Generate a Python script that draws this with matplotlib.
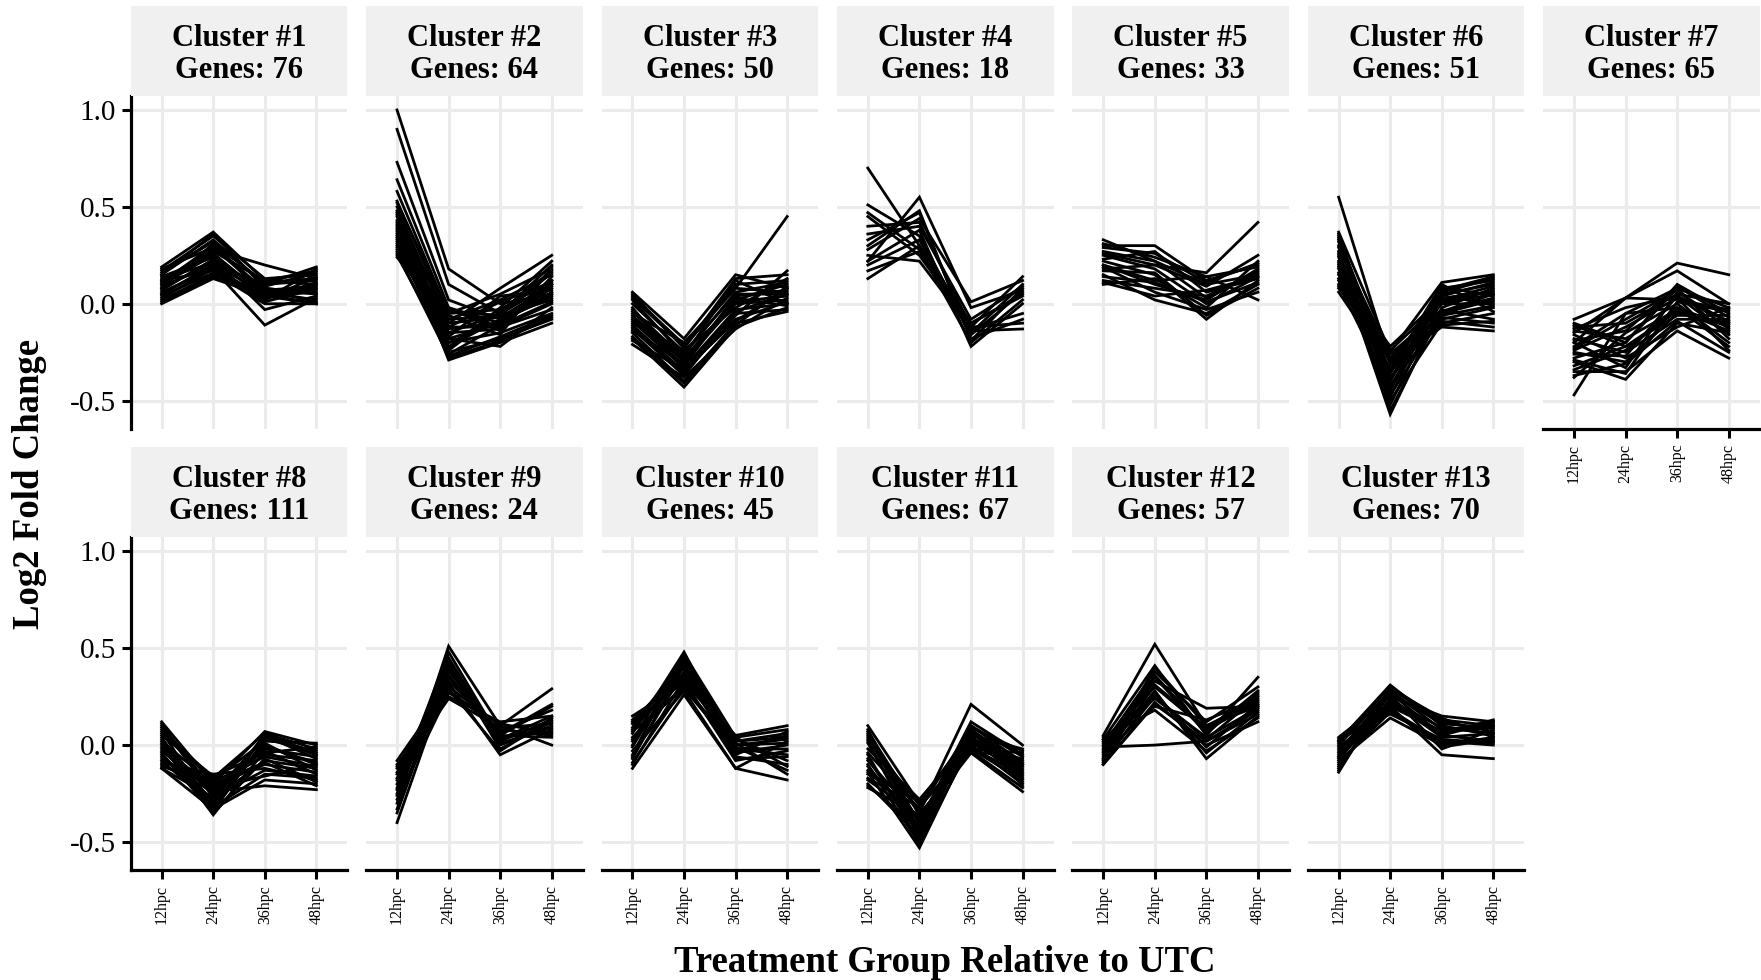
import matplotlib
matplotlib.use('Agg')
import matplotlib.pyplot as plt

plt.rcParams['font.family'] = ['Liberation Serif', 'DejaVu Serif']
plt.rcParams['axes.unicode_minus'] = False

# ---------------- data ----------------
timepoints = ['12hpc', '24hpc', '36hpc', '48hpc']
cluster_ids = [1, 2, 3, 4, 5, 6, 7, 8, 9, 10, 11, 12, 13]
gene_counts = [76, 64, 50, 18, 33, 51, 65, 111, 24, 45, 67, 57, 70]
y_ticks = [-0.5, 0.0, 0.5, 1.0]
y_tick_labels = ['-0.5', '0.0', '0.5', '1.0']

# each row: log2 fold change at 12, 24, 36, 48 hpc (representative genes)
cluster_01 = [
    [0.19, 0.37, 0.12, 0.10], [0.17, 0.35, 0.13, 0.15], [0.15, 0.33, 0.10, 0.12],
    [0.12, 0.28, 0.20, 0.13], [0.10, 0.25, 0.05, 0.08], [0.08, 0.22, 0.08, 0.05],
    [0.05, 0.20, 0.06, 0.02], [0.12, 0.26, 0.04, 0.06], [0.02, 0.15, 0.05, 0.00],
    [0.00, 0.13, 0.04, 0.00], [0.06, 0.18, -0.11, 0.03], [0.14, 0.24, 0.02, 0.18],
    [0.09, 0.20, 0.10, 0.19], [0.04, 0.16, 0.00, 0.00], [0.11, 0.30, 0.07, 0.09],
    [0.16, 0.32, 0.03, 0.11], [0.07, 0.23, -0.03, 0.04], [0.13, 0.21, 0.09, 0.16],
    [0.18, 0.29, 0.06, 0.07], [0.03, 0.18, 0.02, 0.14], [0.01, 0.14, 0.07, 0.01],
    [0.10, 0.27, 0.12, 0.17], [0.15, 0.36, 0.08, 0.05], [0.05, 0.19, 0.03, 0.10],
    [0.08, 0.31, 0.11, 0.13], [0.12, 0.17, 0.01, 0.08],
]
cluster_02 = [
    [1.00, 0.18, 0.00, 0.05], [0.90, 0.10, -0.05, 0.10], [0.73, 0.02, -0.08, 0.03],
    [0.64, -0.02, -0.10, 0.08], [0.58, -0.05, -0.03, 0.12], [0.53, -0.08, 0.02, 0.15],
    [0.50, -0.12, -0.12, 0.00], [0.46, -0.15, -0.05, 0.20], [0.43, -0.20, -0.15, -0.05],
    [0.40, -0.25, -0.18, -0.08], [0.38, -0.29, -0.20, -0.10], [0.36, -0.10, 0.08, 0.25],
    [0.34, -0.18, -0.22, -0.02], [0.32, -0.22, -0.08, 0.05], [0.30, -0.05, 0.05, 0.18],
    [0.28, -0.13, -0.10, 0.10], [0.26, -0.27, -0.17, -0.06], [0.24, -0.08, -0.06, 0.02],
    [0.35, -0.02, -0.14, 0.14], [0.45, -0.23, -0.02, 0.22], [0.41, -0.03, -0.12, -0.03],
    [0.27, -0.17, 0.04, 0.07], [0.48, -0.10, -0.07, 0.09], [0.31, -0.26, -0.11, 0.01],
    [0.29, -0.15, -0.13, 0.12], [0.37, -0.20, -0.09, 0.04], [0.25, -0.24, -0.04, 0.17],
    [0.42, -0.06, -0.16, 0.19], [0.33, -0.28, -0.19, -0.07], [0.39, -0.12, 0.01, 0.11],
    [0.47, -0.18, -0.10, 0.06], [0.52, -0.04, -0.06, 0.16],
]
cluster_03 = [
    [0.06, -0.18, 0.15, 0.08], [0.03, -0.22, 0.08, 0.45], [0.00, -0.25, 0.05, 0.05],
    [-0.03, -0.28, 0.02, 0.10], [-0.06, -0.30, 0.00, 0.02], [-0.09, -0.33, -0.03, 0.00],
    [-0.12, -0.36, -0.06, 0.17], [-0.15, -0.40, -0.10, -0.04], [-0.18, -0.43, -0.12, -0.02],
    [-0.21, -0.38, -0.13, 0.03], [-0.05, -0.20, 0.08, 0.06], [0.02, -0.27, 0.12, 0.00],
    [-0.10, -0.24, -0.02, 0.13], [-0.14, -0.31, 0.04, 0.07], [-0.02, -0.34, -0.05, -0.03],
    [-0.08, -0.26, 0.06, 0.11], [-0.04, -0.29, 0.01, 0.04], [-0.11, -0.35, -0.08, 0.01],
    [-0.17, -0.41, -0.11, 0.09], [0.04, -0.21, 0.10, 0.12], [-0.07, -0.32, 0.03, -0.01],
    [-0.13, -0.37, -0.04, 0.05], [-0.19, -0.34, -0.09, 0.08], [0.05, -0.23, 0.13, 0.15],
]
cluster_04 = [
    [0.70, 0.30, -0.10, 0.05], [0.51, 0.35, -0.15, 0.10], [0.47, 0.28, -0.20, 0.02],
    [0.40, 0.42, -0.12, 0.14], [0.22, 0.55, -0.02, 0.07], [0.33, 0.47, -0.18, -0.08],
    [0.28, 0.44, 0.01, 0.12], [0.22, 0.38, -0.22, 0.00], [0.20, 0.33, -0.14, -0.13],
    [0.17, 0.27, -0.10, 0.04], [0.13, 0.30, -0.16, 0.06], [0.25, 0.22, -0.13, -0.05],
    [0.36, 0.40, -0.08, 0.09], [0.30, 0.48, -0.19, 0.08], [0.45, 0.25, -0.12, -0.10],
]
cluster_05 = [
    [0.33, 0.22, 0.10, 0.15], [0.30, 0.30, 0.12, 0.20], [0.20, 0.12, 0.14, 0.02],
    [0.25, 0.18, 0.00, 0.14], [0.22, 0.15, -0.08, 0.12], [0.20, 0.10, 0.02, 0.18],
    [0.18, 0.20, 0.16, 0.42], [0.15, 0.02, -0.05, 0.10], [0.12, 0.08, 0.04, 0.16],
    [0.10, 0.13, -0.02, 0.22], [0.26, 0.20, 0.09, 0.25], [0.23, 0.27, 0.06, 0.13],
    [0.17, 0.16, -0.06, 0.08], [0.31, 0.24, 0.14, 0.19], [0.14, 0.11, 0.01, 0.11],
    [0.27, 0.22, 0.03, 0.17], [0.19, 0.06, -0.03, 0.06], [0.29, 0.26, 0.11, 0.21],
    [0.11, 0.04, 0.07, 0.14],
]
cluster_06 = [
    [0.55, -0.30, 0.00, 0.05], [0.37, -0.25, 0.11, 0.15], [0.34, -0.40, 0.05, 0.10],
    [0.30, -0.35, -0.05, 0.02], [0.27, -0.45, 0.08, 0.12], [0.24, -0.50, -0.10, -0.05],
    [0.21, -0.57, -0.02, 0.08], [0.18, -0.30, -0.12, -0.14], [0.15, -0.22, 0.03, 0.06],
    [0.12, -0.38, -0.07, -0.10], [0.09, -0.28, 0.00, 0.00], [0.06, -0.33, -0.04, 0.03],
    [0.32, -0.48, 0.06, 0.13], [0.25, -0.42, -0.08, -0.02], [0.20, -0.52, 0.02, 0.09],
    [0.29, -0.26, -0.03, -0.08], [0.10, -0.44, 0.04, 0.11], [0.35, -0.36, 0.09, 0.04],
    [0.16, -0.47, -0.06, -0.01], [0.22, -0.39, 0.07, 0.14], [0.33, -0.31, -0.09, -0.12],
    [0.08, -0.24, 0.01, 0.07], [0.26, -0.55, -0.04, 0.05], [0.13, -0.34, 0.10, -0.04],
    [0.36, -0.43, 0.03, 0.01], [0.19, -0.29, -0.11, -0.09],
]
cluster_07 = [
    [-0.47, -0.05, 0.08, -0.02], [-0.08, 0.03, 0.21, 0.15], [-0.15, 0.03, 0.02, -0.03],
    [-0.20, 0.03, 0.17, 0.00], [-0.10, -0.20, 0.10, -0.05], [-0.25, -0.30, -0.05, -0.10],
    [-0.30, -0.39, -0.10, -0.15], [-0.35, -0.35, -0.14, -0.28], [-0.38, -0.15, 0.00, -0.20],
    [-0.18, -0.25, -0.08, -0.08], [-0.12, -0.10, 0.05, 0.00], [-0.22, -0.05, -0.02, -0.12],
    [-0.28, -0.20, 0.08, -0.18], [-0.16, -0.28, -0.12, -0.02], [-0.24, -0.12, 0.03, -0.24],
    [-0.32, -0.22, -0.06, -0.06], [-0.20, -0.33, 0.06, -0.10], [-0.14, -0.18, -0.03, -0.14],
    [-0.26, -0.27, 0.04, -0.16], [-0.34, -0.24, -0.02, -0.22], [-0.19, -0.14, 0.09, -0.07],
    [-0.11, -0.22, -0.04, -0.11], [-0.29, -0.36, 0.01, -0.04], [-0.23, -0.08, 0.07, -0.13],
    [-0.37, -0.31, -0.09, -0.25], [-0.13, -0.02, 0.04, -0.09],
]
cluster_08 = [
    [0.12, -0.20, 0.07, 0.00], [0.09, -0.25, 0.04, -0.05], [0.06, -0.18, 0.02, 0.01],
    [0.03, -0.30, 0.00, -0.10], [0.00, -0.36, -0.03, -0.15], [-0.03, -0.22, -0.05, -0.08],
    [-0.06, -0.28, -0.08, -0.12], [-0.09, -0.15, -0.12, -0.18], [-0.12, -0.33, -0.18, -0.20],
    [-0.10, -0.24, -0.21, -0.23], [-0.05, -0.32, -0.15, -0.17], [0.08, -0.17, 0.06, -0.02],
    [0.01, -0.26, -0.02, -0.06], [-0.07, -0.21, -0.10, -0.14], [0.04, -0.34, 0.03, -0.03],
    [-0.11, -0.19, -0.06, -0.11], [0.10, -0.23, -0.01, -0.09], [-0.02, -0.29, 0.05, -0.04],
    [0.11, -0.27, 0.05, -0.07], [-0.04, -0.35, -0.07, -0.19], [0.05, -0.16, -0.04, -0.01],
    [-0.08, -0.31, 0.01, -0.13], [0.02, -0.20, -0.09, -0.21], [-0.12, -0.27, -0.13, -0.16],
    [0.07, -0.33, 0.06, -0.05], [-0.01, -0.22, -0.16, -0.10],
]
cluster_09 = [
    [-0.08, 0.30, 0.10, 0.29], [-0.10, 0.25, 0.12, 0.15], [-0.12, 0.35, 0.05, 0.20],
    [-0.15, 0.40, 0.00, 0.10], [-0.18, 0.28, 0.08, 0.05], [-0.20, 0.45, 0.02, 0.13],
    [-0.23, 0.32, -0.05, 0.08], [-0.26, 0.38, 0.06, 0.21], [-0.30, 0.51, 0.10, 0.00],
    [-0.33, 0.42, -0.02, 0.12], [-0.40, 0.36, 0.04, 0.07], [-0.14, 0.24, 0.09, 0.11],
    [-0.22, 0.48, 0.03, 0.15], [-0.28, 0.27, 0.11, 0.06], [-0.17, 0.33, 0.07, 0.18],
    [-0.25, 0.44, 0.01, 0.09], [-0.11, 0.29, -0.03, 0.14], [-0.35, 0.39, 0.05, 0.04],
]
cluster_10 = [
    [0.15, 0.32, 0.05, 0.10], [0.12, 0.40, 0.02, 0.06], [0.09, 0.45, 0.00, 0.03],
    [0.06, 0.48, -0.02, -0.05], [0.03, 0.35, 0.04, 0.08], [0.00, 0.42, -0.04, 0.00],
    [-0.03, 0.28, -0.12, -0.18], [-0.06, 0.38, -0.06, -0.10], [-0.09, 0.30, -0.01, -0.13],
    [-0.12, 0.26, -0.12, 0.02], [0.08, 0.36, 0.03, -0.08], [-0.01, 0.44, -0.03, 0.05],
    [0.11, 0.33, -0.08, -0.03], [-0.05, 0.46, 0.01, -0.15], [0.04, 0.31, -0.05, 0.07],
    [0.13, 0.37, 0.02, 0.04], [-0.07, 0.41, -0.07, -0.06], [0.02, 0.47, 0.04, -0.11],
    [-0.10, 0.34, 0.00, 0.01], [0.07, 0.29, -0.02, -0.02],
]
cluster_11 = [
    [0.10, -0.30, 0.05, -0.02], [0.07, -0.35, 0.21, 0.00], [0.04, -0.40, 0.12, -0.05],
    [0.01, -0.45, 0.08, -0.10], [-0.02, -0.28, 0.03, -0.15], [-0.05, -0.50, 0.00, -0.20],
    [-0.08, -0.38, -0.04, -0.24], [-0.11, -0.42, 0.06, -0.08], [-0.14, -0.53, 0.02, -0.12],
    [-0.17, -0.32, -0.02, -0.18], [-0.20, -0.47, 0.10, -0.06], [-0.22, -0.36, -0.03, -0.22],
    [0.05, -0.44, 0.07, -0.14], [-0.04, -0.33, 0.09, -0.03], [-0.13, -0.39, -0.01, -0.16],
    [0.02, -0.48, 0.04, -0.11], [0.08, -0.41, 0.10, -0.09], [-0.07, -0.46, 0.05, -0.19],
    [-0.18, -0.37, 0.01, -0.13], [0.03, -0.31, -0.03, -0.07], [-0.10, -0.51, 0.08, -0.21],
    [-0.21, -0.43, 0.03, -0.17], [0.06, -0.36, -0.02, -0.04], [-0.15, -0.29, 0.06, -0.10],
]
cluster_12 = [
    [0.05, 0.52, 0.10, 0.20], [0.03, 0.41, 0.05, 0.35], [0.00, 0.38, 0.12, 0.30],
    [-0.01, 0.00, 0.02, 0.18], [-0.03, 0.33, 0.19, 0.20], [-0.05, 0.28, -0.07, 0.15],
    [-0.08, 0.25, 0.03, 0.25], [-0.10, 0.22, 0.00, 0.12], [0.02, 0.30, 0.08, 0.22],
    [-0.06, 0.35, 0.06, 0.28], [0.04, 0.18, -0.03, 0.14], [-0.04, 0.20, 0.13, 0.24],
    [-0.09, 0.27, -0.04, 0.17], [0.01, 0.24, 0.04, 0.19], [-0.07, 0.31, 0.09, 0.26],
    [-0.02, 0.36, 0.07, 0.27], [0.03, 0.26, -0.01, 0.21], [-0.07, 0.40, 0.10, 0.23],
    [-0.10, 0.21, 0.02, 0.16],
]
cluster_13 = [
    [0.04, 0.25, 0.15, 0.12], [0.02, 0.31, 0.10, 0.05], [0.00, 0.28, 0.08, 0.10],
    [-0.02, 0.22, 0.05, 0.02], [-0.04, 0.18, 0.02, 0.00], [-0.06, 0.26, -0.02, 0.08],
    [-0.08, 0.14, 0.00, 0.04], [-0.10, 0.20, -0.05, -0.07], [-0.12, 0.24, 0.06, 0.13],
    [-0.14, 0.29, 0.12, 0.07], [0.03, 0.16, 0.03, 0.01], [-0.03, 0.27, 0.11, 0.09],
    [-0.07, 0.21, 0.07, 0.11], [-0.01, 0.19, -0.01, 0.03], [-0.11, 0.23, 0.04, 0.06],
    [0.01, 0.30, 0.13, 0.10], [-0.05, 0.23, 0.09, 0.06], [-0.09, 0.17, 0.01, 0.02],
    [-0.13, 0.27, 0.05, 0.12], [0.02, 0.20, 0.07, 0.09], [-0.06, 0.29, 0.14, 0.04],
]
clusters = [cluster_01, cluster_02, cluster_03, cluster_04, cluster_05, cluster_06,
            cluster_07, cluster_08, cluster_09, cluster_10, cluster_11, cluster_12,
            cluster_13]

# ---------------- layout ----------------
W, H = 1761, 980
fig = plt.figure(figsize=(W / 100, H / 100), dpi=100)

ncol = 7
panel_left0 = 130.7
pitch = 235.4
panel_w = 216.6
panel_tops = [96.0, 537.3]
panel_h = 333.0
strip_h = 90.0
ylim = (-0.646, 1.072)
xpos = list(range(1, len(timepoints) + 1))

def rect(l, t, w, h):
    return [l / W, 1 - (t + h) / H, w / W, h / H]

grid_col = '#EBEBEB'
for i, (cid, n, data) in enumerate(zip(cluster_ids, gene_counts, clusters)):
    r, c = divmod(i, ncol)
    left = panel_left0 + c * pitch
    top = panel_tops[r]
    ax = fig.add_axes(rect(left, top, panel_w, panel_h))
    ax.set_xlim(0.4, len(timepoints) + 0.6)
    ax.set_ylim(*ylim)
    for y in y_ticks:
        ax.axhline(y, color=grid_col, lw=2.2, zorder=0)
    for x in xpos:
        ax.axvline(x, color=grid_col, lw=2.2, zorder=0)
    for gene in data:
        ax.plot(xpos, gene, color='black', lw=2.0, solid_joinstyle='miter', zorder=2)
    for s in ax.spines.values():
        s.set_visible(False)
    ax.set_facecolor('white')
    ax.set_yticks(y_ticks)
    if c == 0:
        ax.spines['left'].set_visible(True)
        ax.spines['left'].set_linewidth(2.3)
        ax.set_yticklabels(y_tick_labels, fontsize=21)
        ax.tick_params(axis='y', length=6.5, width=2.2, pad=4, colors='black')
    else:
        ax.tick_params(axis='y', length=0, labelleft=False)
    ax.set_xticks(xpos)
    below = i + ncol
    if below >= len(cluster_ids):
        ax.spines['bottom'].set_visible(True)
        ax.spines['bottom'].set_linewidth(2.3)
        ax.set_xticklabels(timepoints, rotation=90, fontsize=11.5, va='top', ha='center')
        ax.tick_params(axis='x', length=6.5, width=2.2, pad=4, colors='black')
    else:
        ax.tick_params(axis='x', length=0, labelbottom=False)

    sax = fig.add_axes(rect(left, top - strip_h, panel_w, strip_h))
    sax.set_facecolor('#F0F0F0')
    sax.set_xticks([])
    sax.set_yticks([])
    for s in sax.spines.values():
        s.set_visible(False)
    sax.text(0.5, 0.465, f'Cluster #{cid}\nGenes: {n}', ha='center', va='center',
             fontsize=22, fontweight='bold', linespacing=1.13, transform=sax.transAxes)

fig.text(945 / W, 1 - 962 / H, 'Treatment Group Relative to UTC', ha='center', va='center',
         fontsize=26.5, fontweight='bold')
fig.text(30 / W, 1 - 483.5 / H, 'Log2 Fold Change', ha='center', va='center',
         rotation=90, fontsize=26.5, fontweight='bold')

fig.savefig('out.png', dpi=100)
